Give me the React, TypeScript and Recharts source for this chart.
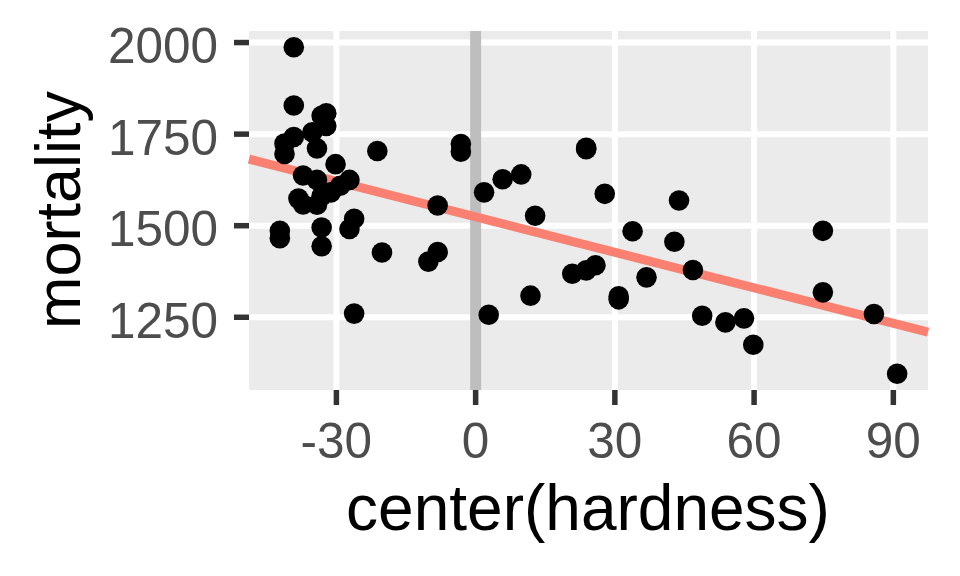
import React from "react";
import {
  ScatterChart,
  Scatter,
  XAxis,
  YAxis,
  CartesianGrid,
  ReferenceLine,
  Label,
} from "recharts";

// water data: 61 towns, hardness centred on its mean (47.18)
const towns = [
  "Bath", "Birkenhead", "Birmingham", "Blackburn", "Blackpool", "Bolton", "Bootle",
  "Bournemouth", "Bradford", "Brighton", "Bristol", "Burnley", "Cardiff", "Coventry",
  "Croydon", "Darlington", "Derby", "Doncaster", "East Ham", "Exeter", "Gateshead",
  "Grimsby", "Halifax", "Huddersfield", "Hull", "Ipswich", "Leeds", "Leicester",
  "Liverpool", "Manchester", "Middlesbrough", "Newcastle", "Newport", "Northampton",
  "Norwich", "Nottingham", "Oldham", "Oxford", "Plymouth", "Portsmouth", "Preston",
  "Reading", "Rochdale", "Rotherham", "St Helens", "Salford", "Sheffield", "Southampton",
  "Southend", "Southport", "South Shields", "Stockport", "Stoke", "Sunderland", "Swansea",
  "Wallasey", "Walsall", "West Bromwich", "West Ham", "Wolverhampton", "York",
];

const hardnessCentered = [
  57.82, -30.18, -42.18, -33.18, -29.18, -37.18, -32.18,
  30.82, -37.18, 36.82, 25.82, -35.18, -26.18, 30.82,
  48.82, -27.18, -8.18, -8.18, 74.82, -26.18, -3.18,
  46.82, -39.18, -38.18, 43.82, 90.82, -31.18, -10.18,
  -32.18, -39.18, -21.18, -3.18, -33.18, 11.82,
  85.82, -20.18, -41.18, 59.82, -42.18, 42.82, -41.18,
  53.82, -34.18, -33.18, 1.82, -39.18, -33.18, 20.82,
  2.82, 27.82, 23.82, -34.18, 9.82, 23.82, -34.18,
  -27.18, 12.82, 5.82, 74.82, 33.82, 23.82,
];

const mortality = [
  1247, 1668, 1466, 1800, 1609, 1558, 1807,
  1299, 1637, 1359, 1392, 1755, 1519, 1307,
  1254, 1491, 1555, 1428, 1318, 1260, 1723,
  1379, 1742, 1574, 1569, 1096, 1591, 1402,
  1772, 1828, 1704, 1702, 1581, 1309,
  1259, 1427, 1724, 1175, 1486, 1456, 1696,
  1236, 1711, 1444, 1591, 1987, 1495, 1369,
  1257, 1587, 1713, 1557, 1640, 1709, 1625,
  1625, 1527, 1627, 1486, 1485, 1378,
];

const xTicks = [-30, 0, 30, 60, 90];
const yTicks = [1250, 1500, 1750, 2000];
const xDomain = [-48.83, 97.47];
const yDomain = [1051.45, 2031.55];

// fitted line ends at the panel edges
const fitX = [-48.83, 97.47];
const fitY = [1681.7, 1209.7];

const points = towns.map((town, i) => ({
  town,
  x: hardnessCentered[i],
  y: mortality[i],
}));

const FONT = "'Liberation Sans', Arial, Helvetica, sans-serif";

const XTick = ({ x, payload }: any) => (
  <text x={x} y={457.5} textAnchor="middle" fontSize={49.5} fill="#4D4D4D" fontFamily={FONT}>
    {payload.value}
  </text>
);

const YTick = ({ y, payload }: any) => (
  <text x={218} y={y + 20.5} textAnchor="end" fontSize={49.5} fill="#4D4D4D" fontFamily={FONT}>
    {payload.value}
  </text>
);

const Dot = ({ cx, cy }: any) => <circle cx={cx} cy={cy} r={10.3} fill="#000000" />;

export default function App() {
  return (
    <div style={{ position: "absolute", left: 0, top: 0, width: 960, height: 576, background: "#ffffff" }}>
      <ScatterChart width={960} height={576} margin={{ top: 31, right: 32, left: 0, bottom: 0 }}>
        <CartesianGrid fill="#EBEBEB" horizontal={false} vertical={false} />
        <XAxis
          type="number"
          dataKey="x"
          domain={xDomain}
          ticks={xTicks}
          allowDataOverflow
          height={186}
          axisLine={false}
          tickSize={15}
          tickLine={{ stroke: "#333333", strokeWidth: 5.5 }}
          tick={<XTick />}
        >
          <Label
            content={() => (
              <text x={588} y={530} textAnchor="middle" fontSize={64} fill="#000000" fontFamily={FONT}>
                center(hardness)
              </text>
            )}
          />
        </XAxis>
        <YAxis
          type="number"
          dataKey="y"
          domain={yDomain}
          ticks={yTicks}
          allowDataOverflow
          width={249}
          axisLine={false}
          tickSize={15}
          tickLine={{ stroke: "#333333", strokeWidth: 5.5 }}
          tick={<YTick />}
        >
          <Label
            content={() => (
              <text
                x={80}
                y={210}
                transform="rotate(-90 80 210)"
                textAnchor="middle"
                fontSize={63}
                fill="#000000"
                fontFamily={FONT}
              >
                mortality
              </text>
            )}
          />
        </YAxis>
        {yTicks.map((v) => (
          <ReferenceLine key={`h${v}`} y={v} stroke="#FFFFFF" strokeWidth={6} />
        ))}
        {xTicks.map((v) => (
          <ReferenceLine key={`v${v}`} x={v} stroke="#FFFFFF" strokeWidth={6} />
        ))}
        <ReferenceLine x={0} stroke="#BEBEBE" strokeWidth={11} />
        <Scatter data={points} shape={<Dot />} isAnimationActive={false} />
        <ReferenceLine
          segment={[
            { x: fitX[0], y: fitY[0] },
            { x: fitX[1], y: fitY[1] },
          ]}
          stroke="#FA8072"
          strokeWidth={9}
        />
      </ScatterChart>
    </div>
  );
}
